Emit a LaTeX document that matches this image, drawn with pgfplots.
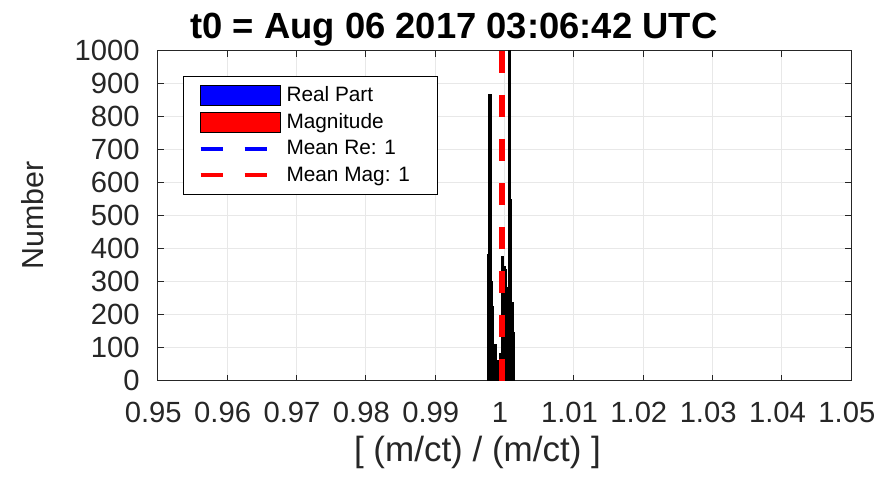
\documentclass[border=0pt]{standalone}
\usepackage{pgfplots}
\pgfplotsset{compat=1.18}
\usepackage{fontspec}
\setmainfont{Liberation Sans}
\pgfplotsset{
  areaimg/.style={legend image code/.code={\draw[##1, line width=0.5pt] (0pt,-5pt) rectangle (40pt,5pt);}},
  blueimg/.style={legend image code/.code={\draw[blue, line width=2pt, dash pattern=on 11pt off 11pt] (0pt,0pt) -- (40pt,0pt);}},
  redimg/.style={legend image code/.code={\draw[red, line width=2pt, dash pattern=on 11pt off 11pt] (0pt,0pt) -- (40pt,0pt);}},
}
\begin{document}
\begin{tikzpicture}
\useasboundingbox (-78.85pt,-49.15pt) rectangle (368.65pt,190.35pt);
\begin{axis}[
  scale only axis, width=346.8pt, height=165pt,
  xmin=0.95, xmax=1.05, ymin=0, ymax=1000,
  xtick={0.95,0.96,0.97,0.98,0.99,1,1.01,1.02,1.03,1.04,1.05},
  xticklabels={0.95,0.96,0.97,0.98,0.99,1,1.01,1.02,1.03,1.04,1.05},
  ytick={0,100,200,300,400,500,600,700,800,900,1000},
  yticklabels={0,100,200,300,400,500,600,700,800,900,1000},
  /pgf/number format/assume math mode=true,
  tick align=inside, major tick length=3pt,
  tick style={black!85, line width=0.5pt},
  axis line style={black!85, line width=0.5pt},
  grid=major, major grid style={gray!18, line width=0.5pt},
  ticklabel style={font=\fontsize{14.6}{16}\selectfont, text=black!85},
  xticklabel style={inner sep=0pt, anchor=base, yshift=-21pt, xshift=-2.2pt},
  yticklabel style={inner sep=0pt, anchor=east, xshift=-8.85pt},
  legend style={at={(rel axis cs:0.0365,0.924)}, anchor=north west,
    font=\fontsize{10.4}{12}\selectfont, draw=black, line width=0.5pt,
    inner xsep=7.5pt, inner ysep=3pt, row sep=0.5pt,
    cells={anchor=west}},
  clip=true,
]
\addplot[ybar interval, fill=blue, draw=black, line width=1pt, areaimg]
  coordinates {(0.9976,380) (0.9978,865) (0.9980,300) (0.9982,224) (0.9984,100)
    (0.9986,108) (0.9988,60) (0.9990,40) (0.9992,30) (0.9994,80) (0.9996,376)
    (0.9998,345) (1.0000,335) (1.0002,280) (1.0004,250) (1.0006,1100)
    (1.0008,547) (1.0010,235) (1.0012,145) (1.0014,0)};
\addplot[ybar interval, fill=red, draw=black, line width=1pt, areaimg]
  coordinates {(0.9976,380) (0.9978,865) (0.9980,300) (0.9982,224) (0.9984,100)
    (0.9986,108) (0.9988,60) (0.9990,40) (0.9992,30) (0.9994,80) (0.9996,376)
    (0.9998,345) (1.0000,335) (1.0002,280) (1.0004,250) (1.0006,1100)
    (1.0008,547) (1.0010,235) (1.0012,145) (1.0014,0)};
\addplot[blue, line width=3pt, dash pattern=on 11pt off 11pt, blueimg]
  coordinates {(0.99965,0) (0.99965,1000)};
\addplot[red, line width=3pt, dash pattern=on 11pt off 11pt, redimg]
  coordinates {(0.99965,0) (0.99965,1000)};
\legend{Real Part, Magnitude, Mean Re: 1, Mean Mag: 1\hspace*{4.5pt}}
\end{axis}
\node[anchor=base, font=\fontsize{18.2}{20}\selectfont\bfseries] at (148.1pt,171.3pt) {t0 = Aug 06 2017 03:06:42 UTC};
\node[anchor=base, font=\fontsize{17.5}{20}\selectfont, text=black!85] at (159.9pt,-40.2pt) {[ (m/ct) / (m/ct) ]};
\node[anchor=center, rotate=90, font=\fontsize{15.2}{18}\selectfont, text=black!85] at (-62.4pt,82.5pt) {Number};
\end{tikzpicture}
\end{document}
